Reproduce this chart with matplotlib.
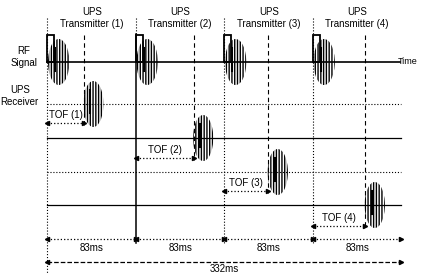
import matplotlib
matplotlib.use('Agg')
import matplotlib.pyplot as plt
import matplotlib.patches as patches

# timing of the four UPS transmitters (ms)
tx_start = [0, 83, 166, 249]
tof_ms = [34, 54, 41, 49]
tx_labels = ["UPS\nTransmitter (1)", "UPS\nTransmitter (2)",
             "UPS\nTransmitter (3)", "UPS\nTransmitter (4)"]
tof_labels = ["TOF (1)", "TOF (2)", "TOF (3)", "TOF (4)"]
period_label = "83ms"
frame_ms = 332
frame_label = "332ms"

plt.rcParams['font.family'] = ['Liberation Sans', 'DejaVu Sans']
plt.rcParams['hatch.linewidth'] = 1.0

W, H = 421, 273
x0_px, px_per_ms = 47.5, 1.066

fig = plt.figure(figsize=(W / 100, H / 100), dpi=100)
ax = fig.add_axes([0, 0, 1, 1])
ax.set_xlim(-x0_px / px_per_ms, (W - x0_px) / px_per_ms)
ax.set_ylim(H, 0)
ax.axis('off')

rf_y = 62
row_y = [104, 138, 172, 205]
row_style = [':', '-', ':', '-']
tof_y = [123, 158, 191, 226]
period_y = 239
frame_y = 262
fs = 7


def burst(cx, cy, w_ms, h_px):
    e = patches.Ellipse((cx, cy), w_ms, h_px, facecolor='none',
                        edgecolor='black', hatch='||||||', lw=0)
    ax.add_patch(e)
    ax.plot([cx - w_ms * 0.15, cx - w_ms * 0.15], [cy - h_px * 0.3, cy + h_px * 0.2],
            color='black', lw=1.5)


def dim_arrow(xa, xb, y, ls=':'):
    ax.plot([xa, xb], [y, y], color='black', lw=0.9, ls=ls)
    ax.plot([xa], [y], marker='<', color='black', ms=3)
    ax.plot([xb], [y], marker='>', color='black', ms=3)


# RF signal line and row baselines
x_right = (W - x0_px) / px_per_ms
ax.plot([0, frame_ms - 1], [rf_y, rf_y], color='black', lw=1.2)
ax.text(x_right - 3, rf_y, "Time", fontsize=6.5, va='center', ha='right')
for y, ls in zip(row_y, row_style):
    ax.plot([0, frame_ms], [y, y], color='black', lw=0.9 if ls == '-' else 0.8, ls=ls)

# left labels
ax.text(-22, 57, "RF\nSignal", fontsize=fs, ha='center', va='center', linespacing=1.2)
ax.text(-26, 96, "UPS\nReceiver", fontsize=fs, ha='center', va='center', linespacing=1.2)

for i, t in enumerate(tx_start):
    rx = t + tof_ms[i]
    # transmitter vertical line
    if i == 0:
        ax.plot([t, t], [18, H], color='black', lw=0.8, ls=':')
    elif i == 1:
        ax.plot([t, t], [18, 34], color='black', lw=0.8, ls=':')
        ax.plot([t, t], [34, 243], color='black', lw=1.1)
    else:
        ax.plot([t, t], [18, 243], color='black', lw=0.8, ls=':')
    # receive time line
    ax.plot([rx, rx], [35, tof_y[i] + 2], color='black', lw=0.8, ls=(0, (4, 3)))
    # titles
    ax.text(t + 41.5, 18, tx_labels[i], fontsize=fs, ha='center', va='center',
            linespacing=1.2)
    # transmit pulse and burst
    ax.add_patch(patches.Rectangle((t, 35), 6.5, rf_y - 35, facecolor='none',
                                   edgecolor='black', lw=1.3))
    burst(t + 10.5, rf_y, 20, 46)
    # received burst
    burst(rx + 9, row_y[i], 19, 46)
    # time of flight
    dim_arrow(t, rx, tof_y[i])
    ax.text(t + tof_ms[i] / 2, tof_y[i] - 8, tof_labels[i], fontsize=fs,
            ha='center', va='center')
    # period
    dim_arrow(t, t + 83, period_y)
    ax.text(t + 41.5, period_y + 9, period_label, fontsize=fs, ha='center', va='center')

dim_arrow(0, frame_ms, frame_y, ls='--')
ax.text(frame_ms / 2, frame_y + 7, frame_label, fontsize=fs, ha='center', va='center')

fig.savefig('out.png', dpi=100)
